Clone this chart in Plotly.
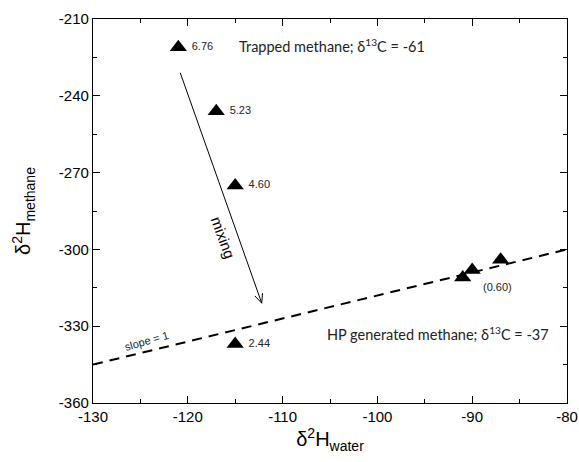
import math
import plotly.graph_objects as go

# Sample points: water vs methane hydrogen isotopes
water_d2h = [-121, -117, -115, -115, -91, -90, -87]
methane_d2h = [-221, -246, -275, -337, -311, -308, -304]
point_labels = ["6.76", "5.23", "4.60", "2.44", "", "", ""]

# Reference line (labelled slope = 1)
ref_x = [-130, -80]
ref_y = [-345, -300]

# Mixing arrow endpoints (tail, head)
mix_x = [-120.8, -112.2]
mix_y = [-231, -321]

x_ticks = [-130, -120, -110, -100, -90, -80]
y_ticks = [-360, -330, -300, -270, -240, -210]

X_RANGE = [-130, -80]
Y_RANGE = [-360, -210]
W, H = 579, 462
M = dict(l=93, r=12, t=19, b=59)
plot_w = W - M["l"] - M["r"]
plot_h = H - M["t"] - M["b"]
sx = plot_w / (X_RANGE[1] - X_RANGE[0])  # px per x unit
sy = plot_h / (Y_RANGE[1] - Y_RANGE[0])  # px per y unit

LABEL_FONT = "Liberation Sans"
NOTE_FONT = "Lato"

fig = go.Figure()

fig.add_trace(go.Scatter(
    x=ref_x, y=ref_y, mode="lines",
    line=dict(color="black", width=2, dash="10px,7px"),
    hoverinfo="skip", showlegend=False,
))

# Mixing arrow shaft with an open V head
fig.add_trace(go.Scatter(
    x=mix_x, y=mix_y, mode="lines",
    line=dict(color="black", width=1), hoverinfo="skip", showlegend=False,
))
dxp = (mix_x[1] - mix_x[0]) * sx
dyp = (mix_y[1] - mix_y[0]) * sy
ang = math.atan2(dyp, dxp)
head_len, half = 10, math.radians(24)
hx, hy = [], []
for s in (1, -1):
    a = ang + math.pi + s * half
    hx.append(mix_x[1] + head_len * math.cos(a) / sx)
    hy.append(mix_y[1] + head_len * math.sin(a) / sy)
fig.add_trace(go.Scatter(
    x=[hx[0], mix_x[1], hx[1]], y=[hy[0], mix_y[1], hy[1]], mode="lines",
    line=dict(color="black", width=1), hoverinfo="skip", showlegend=False,
))

fig.add_trace(go.Scatter(
    x=water_d2h, y=methane_d2h, mode="markers+text",
    marker=dict(symbol="triangle-up", size=15, color="black"),
    text=[(" " + t) if t else "" for t in point_labels],
    textposition="middle right",
    textfont=dict(family=LABEL_FONT, size=11, color="#222"),
    showlegend=False,
))

fig.add_annotation(
    x=-116.3, y=-295.5, xref="x", yref="y", text="mixing", showarrow=False,
    textangle=70, font=dict(family=LABEL_FONT, size=15, color="black"),
)
fig.add_annotation(
    x=-124.4, y=-335.6, xref="x", yref="y", text="slope = 1", showarrow=False,
    textangle=-16, font=dict(family=LABEL_FONT, size=11, color="#222"),
)
fig.add_annotation(
    x=-114.8, y=-220.5, xref="x", yref="y", xanchor="left",
    text="Trapped methane; δ<sup>13</sup>C = -61", showarrow=False,
    font=dict(family=NOTE_FONT, size=14.5, color="#222"),
)
fig.add_annotation(
    x=-105.5, y=-333, xref="x", yref="y", xanchor="left",
    text="HP generated methane; δ<sup>13</sup>C = -37", showarrow=False,
    font=dict(family=NOTE_FONT, size=14.5, color="#222"),
)
fig.add_annotation(
    x=-87.3, y=-314.7, xref="x", yref="y",
    text="(0.60)", showarrow=False,
    font=dict(family=LABEL_FONT, size=11, color="#222"),
)

axis_common = dict(
    showgrid=False, zeroline=False, showline=True, linecolor="black", linewidth=1.2,
    mirror="allticks", ticks="inside", ticklen=7, tickwidth=1, tickcolor="black",
    tickfont=dict(family=LABEL_FONT, size=15, color="black"), automargin=False,
)

fig.update_xaxes(
    range=X_RANGE, tickvals=x_ticks, ticktext=[str(v) for v in x_ticks],
    minor=dict(dtick=5, ticks="inside", ticklen=4, tickcolor="black"),
    title=dict(text="δ<sup>2</sup>H<sub>water</sub>", standoff=4,
               font=dict(family=LABEL_FONT, size=20, color="black")),
    **axis_common,
)
fig.update_yaxes(
    range=Y_RANGE, tickvals=y_ticks, ticktext=[str(v) for v in y_ticks],
    minor=dict(dtick=15, ticks="inside", ticklen=4, tickcolor="black"),
    title=dict(text="δ<sup>2</sup>H<sub>methane</sub>", standoff=22,
               font=dict(family=LABEL_FONT, size=20, color="black")),
    **axis_common,
)

fig.update_layout(
    width=W, height=H,
    margin=M,
    plot_bgcolor="white", paper_bgcolor="white",
)

fig.write_html("out.html")
